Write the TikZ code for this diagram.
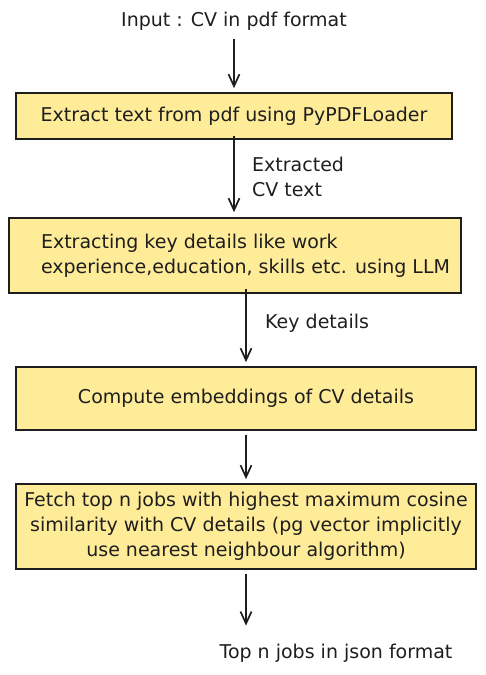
\documentclass[tikz,border=0pt]{standalone}
\usepackage{fontspec}
\setmainfont{DejaVu Sans}
\usetikzlibrary{positioning, arrows.meta}
\definecolor{boxfill}{HTML}{FFEC99}
\definecolor{ink}{HTML}{1E1E1E}

\begin{document}
\begin{tikzpicture}[
                    x=1pt, y=-1pt,
                    every node/.style={font=\fontsize{19}{25}\selectfont, text=ink},
                    stepbox/.style={draw=ink, line width=1.6pt, fill=boxfill, inner sep=0pt},
                    flow/.style={draw=ink, line width=1.7pt, -{Straight Barb[length=12pt, width=11pt, line width=1.7pt]}},
                    note/.style={align=left, inner sep=0pt}
                ]
                \useasboundingbox (0,0) rectangle (486,675);
                \node[note] (input) at (234,21) {Input : CV in pdf format};
                \node[stepbox, minimum width=436pt, minimum height=46pt] (extract) at (234,116)
                    {Extract text from pdf using PyPDFLoader};
                \node[stepbox, minimum width=452pt, minimum height=75pt, align=left] (details) at (235,255.5)
                    {\hspace*{21pt}Extracting key details like work\\\hspace*{21pt}experience,education, skills etc. using LLM};
                \node[stepbox, minimum width=460pt, minimum height=63pt] (embed) at (246,398.5)
                    {Compute embeddings of CV details};
                \node[stepbox, minimum width=460pt, minimum height=85pt, align=center] (fetch) at (246,526.5)
                    {Fetch top n jobs with highest maximum cosine\\similarity with CV details (pg vector implicitly\\use nearest neighbour algorithm)};
                \node[note] (output) at (336,653) {Top n jobs in json format};

                \node[note, anchor=west] (cvtext) at (252,177) {Extracted\\CV text};
                \node[note, anchor=west] (keys) at (265,323) {Key details};

                \draw[flow, shorten <=9pt, shorten >=4pt] (input.south) -- (input.south |- extract.north);
                \draw[flow, shorten <=-4pt, shorten >=5pt] (extract.south) -- (extract.south |- details.north);
                \draw[flow, shorten <=-5pt, shorten >=4pt] (details.south -| embed.north) -- (embed.north);
                \draw[flow, shorten <=4pt, shorten >=4pt] (embed.south) -- (embed.south |- fetch.north);
                \draw[flow, shorten <=4pt, shorten >=18pt] (fetch.south) -- (fetch.south |- output.north);
\end{tikzpicture}
\end{document}
